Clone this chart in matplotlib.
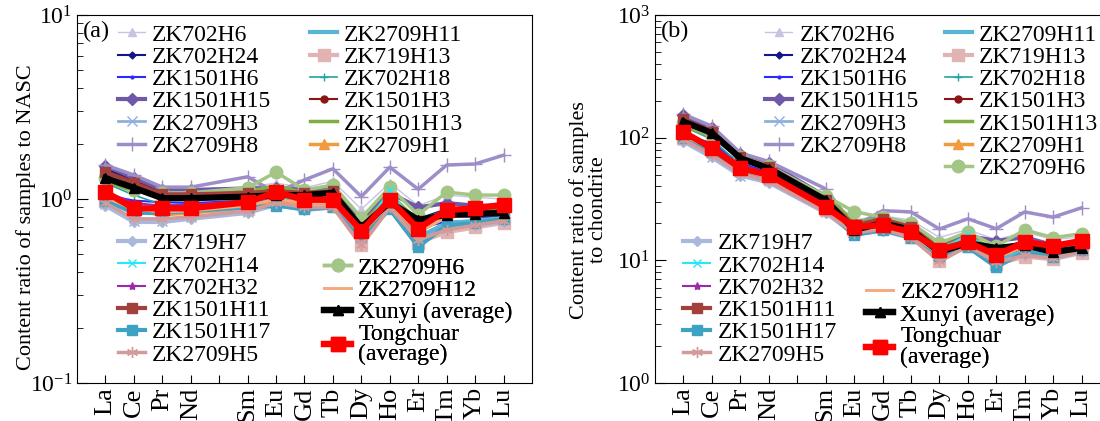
import matplotlib
matplotlib.use("Agg")
import matplotlib.pyplot as plt

plt.rcParams['font.family'] = ['Liberation Serif', 'DejaVu Serif']
plt.rcParams['mathtext.fontset'] = 'stix'

# 元素与横坐标（Pm 位置空出）
elements = ['La', 'Ce', 'Pr', 'Nd', '', 'Sm', 'Eu', 'Gd', 'Tb', 'Dy', 'Ho', 'Er', 'Tm', 'Yb', 'Lu']
x_pos = [0, 1, 2, 3, 5, 6, 7, 8, 9, 10, 11, 12, 13, 14]

# (a) NASC 标准化
nasc_ZK702H6 = [1.50, 1.32, 1.14, 1.13, 1.16, 1.22, 1.15, 1.25, 0.88, 1.22, 0.92, 1.05, 1.02, 1.00]
nasc_ZK702H24 = [1.45, 1.28, 1.08, 1.06, 1.05, 1.00, 1.00, 1.02, 0.70, 0.98, 0.78, 0.88, 0.80, 0.80]
nasc_ZK1501H6 = [1.05, 0.98, 0.96, 0.95, 0.98, 0.95, 0.92, 0.95, 0.64, 0.92, 0.70, 0.75, 0.76, 0.78]
nasc_ZK1501H15 = [1.52, 1.30, 1.12, 1.12, 1.14, 1.15, 1.12, 1.15, 0.78, 1.08, 0.90, 0.95, 0.92, 0.92]
nasc_ZK2709H3 = [0.94, 0.76, 0.76, 0.80, 0.85, 0.95, 0.88, 0.92, 0.63, 0.92, 0.60, 0.72, 0.74, 0.76]
nasc_ZK2709H8 = [1.53, 1.35, 1.16, 1.16, 1.32, 1.08, 1.27, 1.46, 1.03, 1.49, 1.13, 1.53, 1.55, 1.73]
nasc_ZK2709H11 = [1.00, 0.88, 0.86, 0.86, 0.88, 0.92, 0.90, 0.90, 0.62, 0.92, 0.62, 0.74, 0.76, 0.79]
nasc_ZK719H13 = [0.98, 0.85, 0.84, 0.85, 0.88, 1.00, 0.92, 0.92, 0.56, 0.90, 0.58, 0.66, 0.70, 0.74]
nasc_ZK702H18 = [1.22, 1.05, 0.93, 0.93, 0.97, 1.02, 0.96, 0.98, 0.66, 1.05, 0.70, 0.80, 0.80, 0.82]
nasc_ZK1501H3 = [1.42, 1.25, 1.08, 1.08, 1.10, 1.12, 1.10, 1.10, 0.72, 1.00, 0.78, 0.85, 0.85, 0.86]
nasc_ZK1501H13 = [1.25, 1.10, 1.06, 1.06, 1.10, 1.18, 1.08, 1.12, 0.72, 1.06, 0.76, 0.86, 0.86, 0.88]
nasc_ZK2709H1 = [1.02, 0.86, 0.82, 0.84, 0.90, 0.98, 0.95, 0.95, 0.63, 0.94, 0.66, 0.80, 0.83, 0.85]
nasc_ZK2709H6 = [1.30, 1.12, 1.08, 1.08, 1.15, 1.40, 1.12, 1.19, 0.79, 1.16, 0.82, 1.09, 1.05, 1.05]
nasc_ZK719H7 = [0.92, 0.75, 0.75, 0.78, 0.84, 0.93, 0.87, 0.90, 0.60, 0.90, 0.58, 0.70, 0.72, 0.75]
nasc_ZK702H14 = [1.00, 0.90, 0.88, 0.90, 0.95, 1.02, 0.98, 1.00, 0.66, 1.12, 0.68, 0.80, 0.82, 0.84]
nasc_ZK702H32 = [1.10, 0.95, 0.92, 0.93, 0.98, 1.00, 0.96, 0.98, 0.68, 0.96, 0.78, 0.80, 0.80, 0.82]
nasc_ZK1501H11 = [1.40, 1.22, 1.06, 1.06, 1.08, 1.10, 1.08, 1.10, 0.70, 0.98, 0.76, 0.83, 0.84, 0.86]
nasc_ZK1501H17 = [0.98, 0.84, 0.84, 0.86, 0.90, 0.92, 0.88, 0.90, 0.62, 0.88, 0.55, 0.72, 0.74, 0.78]
nasc_ZK2709H5 = [0.95, 0.78, 0.78, 0.80, 0.86, 0.95, 0.90, 0.90, 0.56, 0.90, 0.60, 0.68, 0.72, 0.76]
nasc_ZK2709H12 = [1.02, 0.88, 0.85, 0.86, 0.92, 1.00, 0.95, 0.96, 0.64, 0.95, 0.66, 0.80, 0.82, 0.85]
nasc_xunyi = [1.30, 1.15, 1.01, 1.01, 1.03, 1.05, 1.05, 1.08, 0.70, 0.96, 0.77, 0.82, 0.83, 0.84]
nasc_tongchuan = [1.09, 0.89, 0.89, 0.89, 0.96, 1.09, 0.99, 0.99, 0.67, 0.99, 0.69, 0.87, 0.89, 0.93]

# (b) 球粒陨石标准化
chon_ZK702H6 = [152, 121, 74, 62, 33.6, 21.4, 23.0, 21.3, 15.4, 17.8, 14.7, 17.0, 14.8, 15.5]
chon_ZK702H24 = [146, 118, 70, 58, 30.5, 17.5, 20.0, 17.3, 12.3, 14.3, 12.5, 14.3, 11.6, 12.4]
chon_ZK1501H6 = [106, 90, 62, 52, 28.4, 16.6, 18.4, 16.2, 11.2, 13.4, 11.2, 12.2, 11.0, 12.1]
chon_ZK1501H15 = [154, 120, 73, 62, 33.1, 20.1, 22.4, 19.6, 13.7, 15.8, 14.4, 15.4, 13.3, 14.3]
chon_ZK2709H3 = [95, 70, 49, 44, 24.7, 16.6, 17.6, 15.6, 11.0, 13.4, 9.6, 11.7, 10.7, 11.8]
chon_ZK2709H8 = [155, 124, 75, 64, 38.3, 18.9, 25.4, 24.8, 18.0, 21.8, 18.1, 24.8, 22.5, 26.8]
chon_ZK2709H11 = [101, 81, 56, 47, 25.5, 16.1, 18.0, 15.3, 10.9, 13.4, 9.9, 12.0, 11.0, 12.2]
chon_ZK719H13 = [99, 78, 55, 47, 25.5, 17.5, 18.4, 15.6, 9.8, 13.1, 9.3, 10.7, 10.2, 11.5]
chon_ZK702H18 = [123, 97, 60, 51, 28.1, 17.9, 19.2, 16.7, 11.6, 15.3, 11.2, 13.0, 11.6, 12.7]
chon_ZK1501H3 = [143, 115, 70, 59, 31.9, 19.6, 22.0, 18.7, 12.6, 14.6, 12.5, 13.8, 12.3, 13.3]
chon_ZK1501H13 = [126, 101, 69, 58, 33.5, 20.7, 21.6, 19.0, 12.6, 15.5, 12.2, 13.9, 12.5, 13.6]
chon_ZK2709H1 = [103, 79, 53, 46, 26.1, 17.2, 19.0, 16.2, 11.0, 13.7, 10.6, 13.0, 12.0, 13.2]
chon_ZK2709H6 = [131, 103, 70, 59, 33.4, 25.0, 22.4, 20.2, 13.8, 17.0, 13.0, 17.7, 15.3, 16.5]
chon_ZK719H7 = [93, 69, 49, 43, 24.4, 16.3, 17.4, 15.3, 10.5, 13.1, 9.3, 11.3, 10.4, 11.6]
chon_ZK702H14 = [101, 83, 57, 50, 27.6, 17.9, 19.6, 17.0, 11.6, 16.4, 10.9, 13.0, 11.9, 13.0]
chon_ZK702H32 = [111, 87, 60, 51, 28.4, 17.5, 19.2, 16.7, 11.9, 14.0, 12.5, 13.0, 11.6, 12.7]
chon_ZK1501H11 = [141, 112, 69, 58, 31.3, 19.3, 21.6, 18.7, 12.3, 14.3, 12.2, 13.4, 12.2, 13.3]
chon_ZK1501H17 = [99, 77, 55, 47, 26.1, 16.1, 17.6, 15.3, 10.9, 12.8, 8.8, 11.7, 10.7, 12.1]
chon_ZK2709H5 = [96, 72, 51, 44, 24.9, 16.6, 18.0, 15.3, 9.8, 13.1, 9.6, 11.0, 10.4, 11.8]
chon_ZK2709H12 = [103, 81, 55, 47, 26.7, 17.5, 19.0, 16.3, 11.2, 13.9, 10.6, 13.0, 11.9, 13.2]
chon_xunyi = [135, 109, 68, 56, 31.0, 17.7, 20.1, 17.7, 11.7, 13.8, 12.6, 13.3, 11.7, 12.6]
chon_tongchuan = [111, 82, 56.5, 49.6, 27.2, 18.7, 19.4, 17.0, 12.1, 14.1, 11.0, 14.1, 13.1, 14.4]

# 名称, 颜色, 标记, 标记大小, 线宽
styles = [
    ('ZK702H6', '#c9c3e3', '^', 6, 1.0),
    ('ZK702H24', '#14148c', 'D', 3.5, 1.5),
    ('ZK1501H6', '#2b2bff', '.', 4, 1.5),
    ('ZK1501H15', '#6f58a8', 'D', 6, 3.0),
    ('ZK2709H3', '#8fb0dc', 'x', 7, 2.0),
    ('ZK2709H8', '#9d8ec8', '+', 10, 2.5),
    ('ZK2709H11', '#5ab4d6', '', 0, 3.0),
    ('ZK719H13', '#e2b3b3', 's', 8, 3.0),
    ('ZK702H18', '#21a3a3', '+', 6, 1.2),
    ('ZK1501H3', '#8b1515', 'o', 5, 1.5),
    ('ZK1501H13', '#82ad44', '', 0, 2.5),
    ('ZK2709H1', '#f19a3e', '^', 7, 2.5),
    ('ZK2709H6', '#a3c585', 'o', 9, 2.5),
    ('ZK719H7', '#a9b9dc', 'D', 5, 3.0),
    ('ZK702H14', '#2de6f5', 'x', 6, 1.5),
    ('ZK702H32', '#9a2aa8', '*', 6, 1.5),
    ('ZK1501H11', '#a2403c', 's', 7, 3.0),
    ('ZK1501H17', '#3ea3c2', 's', 7, 3.0),
    ('ZK2709H5', '#d39a9a', (6, 2, 0), 8, 2.5),
    ('ZK2709H12', '#f5ab80', '', 0, 2.0),
    ('Xunyi (average)', 'black', '^', 7, 4.5),
    ('Tongchuar\n(average)', '#ff0000', 's', 10, 4.5),
]

nasc_data = [nasc_ZK702H6, nasc_ZK702H24, nasc_ZK1501H6, nasc_ZK1501H15, nasc_ZK2709H3,
             nasc_ZK2709H8, nasc_ZK2709H11, nasc_ZK719H13, nasc_ZK702H18, nasc_ZK1501H3,
             nasc_ZK1501H13, nasc_ZK2709H1, nasc_ZK2709H6, nasc_ZK719H7, nasc_ZK702H14,
             nasc_ZK702H32, nasc_ZK1501H11, nasc_ZK1501H17, nasc_ZK2709H5, nasc_ZK2709H12,
             nasc_xunyi, nasc_tongchuan]
chon_data = [chon_ZK702H6, chon_ZK702H24, chon_ZK1501H6, chon_ZK1501H15, chon_ZK2709H3,
             chon_ZK2709H8, chon_ZK2709H11, chon_ZK719H13, chon_ZK702H18, chon_ZK1501H3,
             chon_ZK1501H13, chon_ZK2709H1, chon_ZK2709H6, chon_ZK719H7, chon_ZK702H14,
             chon_ZK702H32, chon_ZK1501H11, chon_ZK1501H17, chon_ZK2709H5, chon_ZK2709H12,
             chon_xunyi, chon_tongchuan]

fig = plt.figure(figsize=(11, 4.21), dpi=100)
ax1 = fig.add_axes([0.07, 0.0903, 0.4136, 0.8741])
ax2 = fig.add_axes([0.5955, 0.0903, 0.4136, 0.8741])

LEG_FS = 17


def draw_panel(ax, data, ylim, tag, ylabel, label_x, label_y, groups):
    lines = []
    for (name, color, marker, ms, lw), vals in zip(styles, data):
        ln, = ax.plot(x_pos, vals, color=color, marker=marker if marker else None,
                      markersize=ms, linewidth=lw, label=name)
        lines.append(ln)
    ax.set_yscale('log')
    ax.set_ylim(*ylim)
    ax.set_xlim(-1, 15)
    ax.set_xticks(range(15))
    ax.set_xticklabels(elements, rotation=90, fontsize=19)
    ax.tick_params(axis='x', direction='in', length=6, top=False, pad=3)
    ax.tick_params(axis='y', which='major', direction='in', length=8, labelsize=17, right=False)
    ax.tick_params(axis='y', which='minor', direction='in', length=4, right=False)
    ax.set_ylabel(ylabel, fontsize=16, linespacing=1.0)
    ax.yaxis.set_label_coords(label_x, label_y)
    ax.text(0.012, 0.955, tag, transform=ax.transAxes, fontsize=17.5, ha='left', va='center')
    for idx, (gx, gy) in groups:
        leg = ax.legend([lines[i] for i in idx], [styles[i][0] for i in idx],
                        loc='upper left', bbox_to_anchor=(gx, gy), frameon=False,
                        fontsize=LEG_FS, borderpad=0, borderaxespad=0, labelspacing=0.03,
                        handlelength=1.15, handletextpad=0.3, numpoints=1)
        for t in leg.get_texts():
            t.set_linespacing(0.95)
        ax.add_artist(leg)


draw_panel(ax1, nasc_data, (0.1, 10), '(a)', 'Content ratio of samples to NASC', -0.09, 0.45,
           [(range(0, 6), (0.09, 0.975)),
            (range(6, 12), (0.512, 0.975)),
            (range(13, 19), (0.09, 0.408)),
            ([12, 19, 20, 21], (0.543, 0.342))])

draw_panel(ax2, chon_data, (1, 1000), '(b)', 'Content ratio of samples\nto chondrite', -0.103, 0.47,
           [(range(0, 6), (0.242, 0.975)),
            (range(6, 13), (0.637, 0.975)),
            (range(13, 19), (0.062, 0.408)),
            ([19, 20, 21], (0.464, 0.275))])

fig.savefig('out.png', dpi=100)
